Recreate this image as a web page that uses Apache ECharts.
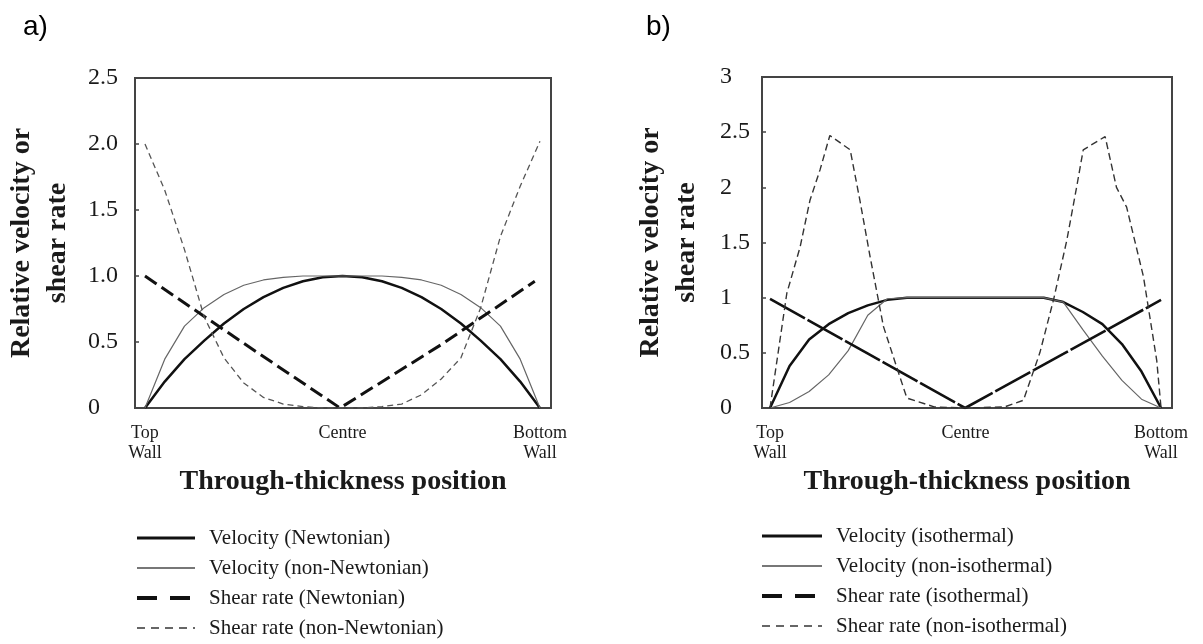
<!DOCTYPE html>
<html>
<head>
<meta charset="utf-8">
<script src="https://cdn.jsdelivr.net/npm/echarts@6/dist/echarts.min.js"></script>
<style>html,body{margin:0;padding:0;background:#fff}#c{width:1203px;height:644px}</style>
</head>
<body>
<div id="c"></div>
<script>
// ---------- Panel a ----------
const posA = [0,0.05,0.1,0.15,0.2,0.25,0.3,0.35,0.4,0.45,0.5,0.55,0.6,0.65,0.7,0.75,0.8,0.85,0.9,0.95,1.0];
const velNewtA    = [0,0.2,0.37,0.51,0.64,0.75,0.84,0.91,0.96,0.99,1.0,0.99,0.96,0.91,0.84,0.75,0.64,0.51,0.37,0.2,0];
const velNonNewtA = [0,0.37,0.62,0.76,0.86,0.93,0.97,0.99,1.0,1.0,1.0,1.0,1.0,0.99,0.97,0.93,0.86,0.76,0.62,0.37,0];
const shearNonNewtA = [2.0,1.65,1.2,0.69,0.38,0.19,0.08,0.03,0.01,0,0,0,0.01,0.03,0.1,0.22,0.38,0.76,1.3,1.68,2.02];
const shearNewtPosA = [0,0.25,0.494,0.75,0.987];
const shearNewtA    = [1.0,0.49,0,0.48,0.96];

// ---------- Panel b ----------
const posB = [0,0.05,0.1,0.15,0.2,0.25,0.3,0.35,0.4,0.45,0.5,0.55,0.6,0.65,0.7,0.75,0.8,0.85,0.9,0.95,1.0];
const velIsoB    = [0,0.38,0.62,0.76,0.86,0.93,0.98,1.0,1.0,1.0,1.0,1.0,1.0,1.0,1.0,0.96,0.87,0.76,0.58,0.33,0];
const velNonIsoB = [0,0.05,0.15,0.3,0.52,0.84,0.99,1.0,1.0,1.0,1.0,1.0,1.0,1.0,1.0,0.96,0.71,0.47,0.25,0.08,0];
const shearIsoPosB = [0,0.247,0.499,0.75,1.0];
const shearIsoB    = [0.99,0.5,0,0.49,0.98];
const shearNonIsoPosB = [0,0.043,0.077,0.102,0.128,0.153,0.205,0.23,0.256,0.29,0.324,0.35,0.42,0.5,0.6,0.648,0.69,0.725,0.759,0.784,0.801,0.857,0.886,0.912,0.955,0.989,1.0];
const shearNonIsoB    = [0,1.04,1.46,1.88,2.16,2.47,2.34,1.88,1.37,0.74,0.37,0.09,0.01,0,0.01,0.07,0.5,0.98,1.52,2.0,2.34,2.46,2.0,1.82,1.19,0.43,0];

// ---------- Labels ----------
const xTickValues = [0, 0.5, 1];
const xTickNames = ['Top\nWall', 'Centre', 'Bottom\nWall'];
const yTitle = 'Relative velocity or\nshear rate';
const xTitle = 'Through-thickness position';
const namesA = ['Velocity (Newtonian)','Velocity (non-Newtonian)','Shear rate (Newtonian)','Shear rate (non-Newtonian)'];
const namesB = ['Velocity (isothermal)','Velocity (non-isothermal)','Shear rate (isothermal)','Shear rate (non-isothermal)'];

const zip = (xs, ys) => xs.map((x, i) => [x, ys[i]]);
const SERIF = '"Liberation Serif","Times New Roman",serif';
const INK = '#1a1a1a';

function xAxisFor(idx, min) {
  return {
    type: 'value', gridIndex: idx, min: min, max: 1.028,
    axisLine: { show: false, onZero: false }, axisTick: { show: false }, splitLine: { show: false },
    axisLabel: {
      customValues: xTickValues,
      formatter: v => xTickNames[xTickValues.indexOf(v)] ?? '',
      fontFamily: SERIF, fontSize: 18, lineHeight: 20, color: INK, margin: 15
    },
    name: xTitle, nameLocation: 'middle', nameGap: 74,
    nameTextStyle: { fontFamily: SERIF, fontSize: 28, fontWeight: 'bold', color: INK, verticalAlign: 'middle' }
  };
}
function yAxisFor(idx, max, margin, fmt, gap) {
  return {
    type: 'value', gridIndex: idx, min: 0, max: max, interval: 0.5,
    axisLine: { show: true, onZero: false, lineStyle: { color: '#444', width: 2 } },
    axisTick: { show: true, inside: true, length: 4, lineStyle: { color: '#444', width: 1.5 } },
    splitLine: { show: false },
    axisLabel: { align: 'left', margin: margin, fontFamily: SERIF, fontSize: 24, color: INK, formatter: fmt },
    name: yTitle, nameLocation: 'middle', nameRotate: 90, nameGap: gap,
    nameTextStyle: { fontFamily: SERIF, fontSize: 28, fontWeight: 'bold', color: INK, lineHeight: 36, verticalAlign: 'middle', align: 'center' }
  };
}
function line(name, idx, data, color, width, type) {
  return {
    name: name, type: 'line', xAxisIndex: idx, yAxisIndex: idx, data: data,
    symbol: 'none', smooth: false, silent: true,
    lineStyle: { color: color, width: width, type: type },
    itemStyle: { color: color }
  };
}
function legendFor(names, left, top, lineW) {
  return {
    orient: 'vertical', left: left, top: top, height: 130, padding: 0,
    itemWidth: lineW, itemHeight: 14, itemGap: 8,
    selectedMode: false,
    itemStyle: { opacity: 0 },
    textStyle: { fontFamily: SERIF, fontSize: 21, lineHeight: 22, color: INK, padding: [0, 0, 0, 9] },
    data: [
      { name: names[0], lineStyle: { width: 3, color: '#111' } },
      { name: names[1], lineStyle: { width: 2, color: '#777' } },
      { name: names[2], lineStyle: { type: [20, 13], width: 4, color: '#111' } },
      { name: names[3], lineStyle: { type: [8, 6], width: 1.8, color: '#666' } }
    ]
  };
}

const option = {
  animation: false,
  backgroundColor: '#fff',
  title: [
    { text: 'a)', left: 18, top: 8, textStyle: { fontFamily: '"Liberation Sans",Arial,sans-serif', fontSize: 28, fontWeight: 'normal', color: '#000' } },
    { text: 'b)', left: 641, top: 8, textStyle: { fontFamily: '"Liberation Sans",Arial,sans-serif', fontSize: 28, fontWeight: 'normal', color: '#000' } }
  ],
  grid: [
    { left: 135, top: 78, width: 416, height: 330, show: true, borderColor: '#444', borderWidth: 2, backgroundColor: 'transparent' },
    { left: 762, top: 77, width: 410, height: 331, show: true, borderColor: '#444', borderWidth: 2, backgroundColor: 'transparent' }
  ],
  xAxis: [ xAxisFor(0, -0.0253), xAxisFor(1, -0.0205) ],
  yAxis: [
    yAxisFor(0, 2.5, 47, v => v === 0 ? '0' : v.toFixed(1), 95),
    yAxisFor(1, 3, 42, v => String(v), 93)
  ],
  legend: [ legendFor(namesA, 135, 527, 58), legendFor(namesB, 760, 525, 60) ],
  series: [
    line(namesA[0], 0, zip(posA, velNewtA), '#111', 2.5, 'solid'),
    line(namesA[1], 0, zip(posA, velNonNewtA), '#666', 1.2, 'solid'),
    line(namesA[2], 0, zip(shearNewtPosA, shearNewtA), '#111', 3, [14, 6]),
    line(namesA[3], 0, zip(posA, shearNonNewtA), '#555', 1.3, [6, 4]),
    line(namesB[0], 1, zip(posB, velIsoB), '#111', 2.5, 'solid'),
    line(namesB[1], 1, zip(posB, velNonIsoB), '#666', 1.2, 'solid'),
    line(namesB[2], 1, zip(shearIsoPosB, shearIsoB), '#111', 2.6, [40, 3]),
    line(namesB[3], 1, zip(shearNonIsoPosB, shearNonIsoB), '#333', 1.4, [7, 4])
  ]
};
const chart = echarts.init(document.getElementById('c'), null, { renderer: 'canvas' });
chart.setOption(option);
</script>
</body>
</html>
